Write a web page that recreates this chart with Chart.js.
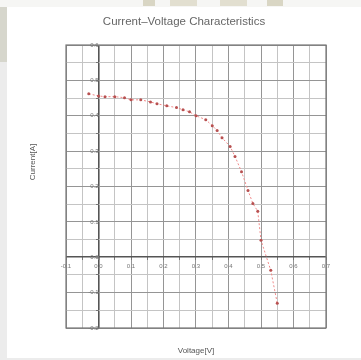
<!DOCTYPE html>
<html>
<head>
<meta charset="utf-8">
<script src="https://cdn.jsdelivr.net/npm/chart.js@4.4.1/dist/chart.umd.min.js"></script>
<style>
  body { margin: 0; width: 361px; height: 360px; background: #ececec; position: relative; overflow: hidden; font-family: "Liberation Sans", Arial, sans-serif; }
  .topbar { position: absolute; left: 0; top: 0; width: 361px; height: 7px; background: #f6f6f4; }
  .btn { position: absolute; top: 0; height: 6px; background: #d9d6c4; }
  .side { position: absolute; left: 0; top: 7px; width: 7px; height: 55px; background: #d6d6cc; }
  #panel { position: absolute; left: 7px; top: 7px; width: 354px; height: 351px; background: #fff; }
  #ivChart { display: block; }
</style>
</head>
<body>
<div class="topbar"></div>
<div class="btn" style="left:143px;width:12px;"></div>
<div class="btn" style="left:170px;width:27px;background:#e2dfd0;"></div>
<div class="btn" style="left:220px;width:27px;background:#e2dfd0;"></div>
<div class="btn" style="left:267px;width:16px;"></div>
<div class="side"></div>
<div id="panel"><canvas id="ivChart" width="354" height="351"></canvas></div>
<script>
const chartTitle = 'Current\u2013Voltage Characteristics';
const xTitle = 'Voltage[V]';
const yTitle = 'Current[A]';
const voltage = [-0.03, 0.0, 0.02, 0.05, 0.08, 0.10, 0.13, 0.16, 0.18, 0.21, 0.24, 0.26, 0.28,
                 0.30, 0.33, 0.35, 0.365, 0.38, 0.405, 0.42, 0.44, 0.46, 0.475, 0.49, 0.50, 0.53, 0.55];
const current = [0.462, 0.456, 0.454, 0.454, 0.451, 0.445, 0.445, 0.439, 0.434, 0.428, 0.423, 0.417, 0.411,
                 0.400, 0.389, 0.372, 0.358, 0.338, 0.313, 0.285, 0.242, 0.189, 0.152, 0.130, 0.048, -0.037, -0.130];
const xRange = [-0.1, 0.7];
const yRange = [-0.2, 0.6];

function isMajor(v) { return Math.round(v * 100) % 10 === 0; }

function gridColor(ctx) {
    const v = ctx.tick ? ctx.tick.value : 0;
    if (Math.abs(v) < 1e-9) return '#555';
    return isMajor(v) ? '#959595' : '#c4c4c4';
}
function gridWidth(ctx) {
    const v = ctx.tick ? ctx.tick.value : 0;
    return Math.abs(v) < 1e-9 ? 1.6 : 1;
}

// axis titles, main title and frame
const decor = {
    id: 'decor',
    afterDraw(chart) {
        const c = chart.ctx, a = chart.chartArea;
        c.save();
        c.strokeStyle = '#777';
        c.lineWidth = 1.2;
        c.strokeRect(a.left, a.top, a.right - a.left, a.bottom - a.top);
        c.fillStyle = '#666';
        c.textAlign = 'center';
        c.textBaseline = 'middle';
        c.font = '11.5px "Liberation Sans", Arial, sans-serif';
        c.fillText(chartTitle, 177, 15);
        c.font = '8px "Liberation Sans", Arial, sans-serif';
        c.fillStyle = '#555';
        c.fillText(xTitle, 189, 344);
        c.translate(26, 155);
        c.rotate(-Math.PI / 2);
        c.fillText(yTitle, 0, 0);
        c.restore();
    }
};

document.addEventListener("DOMContentLoaded", function () {
    const ctx = document.getElementById('ivChart').getContext('2d');

    new Chart(ctx, {
        type: 'line',
        data: {
            datasets: [{
                label: 'I-V',
                data: voltage.map((v, i) => ({ x: v, y: current[i] })),
                borderColor: '#f08a8a',
                borderWidth: 1,
                borderDash: [2, 2],
                pointRadius: 1.5,
                pointBackgroundColor: '#b85050',
                pointBorderWidth: 0,
                tension: 0
            }]
        },
        options: {
            responsive: false,
            animation: false,
            layout: { padding: { left: 59, top: 38, right: 35, bottom: 30 } },
            plugins: { legend: { display: false }, tooltip: { enabled: false }, title: { display: false } },
            scales: {
                x: {
                    type: 'linear',
                    position: { y: 0 },
                    min: xRange[0],
                    max: xRange[1],
                    grid: { color: gridColor, lineWidth: gridWidth, tickLength: 3, tickColor: '#777' },
                    border: { display: false },
                    ticks: {
                        stepSize: 0.05,
                        autoSkip: false,
                        maxRotation: 0,
                        color: '#777',
                        font: { size: 6 },
                        padding: 2,
                        callback: (v) => isMajor(v) ? (Math.round(v * 10) / 10).toFixed(1) : ''
                    }
                },
                y: {
                    type: 'linear',
                    position: { x: 0 },
                    min: yRange[0],
                    max: yRange[1],
                    grid: { color: gridColor, lineWidth: gridWidth, tickLength: 3, tickColor: '#777' },
                    border: { display: false },
                    ticks: {
                        stepSize: 0.05,
                        autoSkip: false,
                        color: '#777',
                        font: { size: 6 },
                        padding: 2,
                        callback: (v) => isMajor(v) ? (Math.round(v * 10) / 10).toFixed(1) : ''
                    }
                }
            }
        },
        plugins: [decor]
    });
});
</script>
</body>
</html>
